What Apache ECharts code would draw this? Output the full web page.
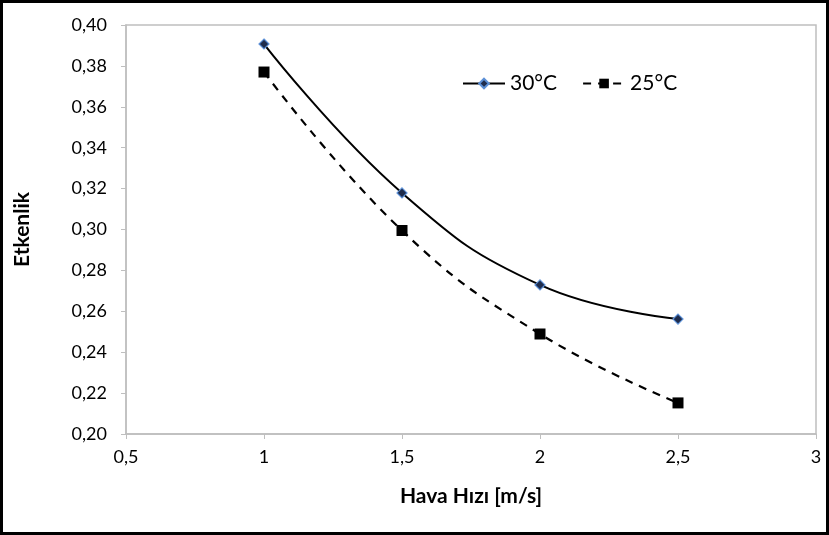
<!DOCTYPE html>
<html>
<head>
<meta charset="utf-8">
<script src="https://cdn.jsdelivr.net/npm/echarts@6/dist/echarts.min.js"></script>
<style>
  html, body { margin: 0; padding: 0; background: #fff; }
  #frame { width: 829px; height: 535px; box-sizing: border-box; border: 3px solid #000; position: relative; }
  #chart { position: absolute; left: -3px; top: -3px; width: 829px; height: 535px; }
</style>
</head>
<body>
<div id="frame"><div id="chart"></div></div>
<script>
// Air speed (m/s) and effectiveness for two inlet temperatures
const airSpeed = [1, 1.5, 2, 2.5];
const eff30 = [0.3907, 0.3179, 0.2729, 0.2562];
const eff25 = [0.3770, 0.2995, 0.2489, 0.2152];
const seriesNames = ['30°C', '25°C'];

const fmt = (v, d) => v.toFixed(d).replace('.', ',');
const fontFam = 'Lato, "Open Sans", "DejaVu Sans", sans-serif';

const chart = echarts.init(document.getElementById('chart'), null, { renderer: 'canvas' });
chart.setOption({
  animation: false,
  backgroundColor: 'transparent',
  grid: {
    left: 126, right: 13, top: 25, bottom: 101,
    show: true, borderColor: '#bfbfbf', borderWidth: 1.5
  },
  legend: {
    left: 457, top: 68,
    itemWidth: 42, itemHeight: 12, itemGap: 25,
    textStyle: { fontFamily: fontFam, fontSize: 21, color: '#000' },
    data: [
      { name: seriesNames[0] },
      { name: seriesNames[1] }
    ]
  },
  xAxis: {
    type: 'value', min: 0.5, max: 3, interval: 0.5,
    name: 'Hava Hızı [m/s]', nameLocation: 'middle', nameGap: 52,
    nameTextStyle: { fontFamily: fontFam, fontSize: 21, fontWeight: 'bold', color: '#000' },
    axisLine: { lineStyle: { color: '#bfbfbf', width: 1.5 } },
    axisTick: { show: true, length: 5, lineStyle: { color: '#bfbfbf' } },
    axisLabel: { fontFamily: fontFam, fontSize: 18, color: '#000', margin: 14,
      formatter: v => (Math.round(v * 10) % 10 === 0 ? String(Math.round(v)) : fmt(v, 1)) },
    splitLine: { show: false }
  },
  yAxis: {
    type: 'value', min: 0.2, max: 0.4, interval: 0.02,
    name: 'Etkenlik', nameLocation: 'middle', nameGap: 93,
    nameTextStyle: { fontFamily: fontFam, fontSize: 21, fontWeight: 'bold', color: '#000' },
    axisLine: { show: true, lineStyle: { color: '#bfbfbf', width: 1.5 } },
    axisTick: { show: true, length: 5, lineStyle: { color: '#bfbfbf' } },
    axisLabel: { fontFamily: fontFam, fontSize: 18, color: '#000', margin: 19,
      formatter: v => fmt(v, 2) },
    splitLine: { show: false }
  },
  series: [
    {
      name: seriesNames[0], type: 'line', smooth: 0.45,
      data: airSpeed.map((x, i) => [x, eff30[i]]),
      symbol: 'diamond', symbolSize: 10,
      itemStyle: { color: '#1f2d4d', borderColor: '#5b8fd6', borderWidth: 1.2 },
      lineStyle: { color: '#000', width: 2 },
      z: 3
    },
    {
      name: seriesNames[1], type: 'line', smooth: 0.45,
      data: airSpeed.map((x, i) => [x, eff25[i]]),
      symbol: 'rect', symbolSize: 11,
      itemStyle: { color: '#000', borderWidth: 0 },
      lineStyle: { color: '#000', width: 2.2, type: [8, 7] },
      z: 2
    }
  ]
});
</script>
</body>
</html>
